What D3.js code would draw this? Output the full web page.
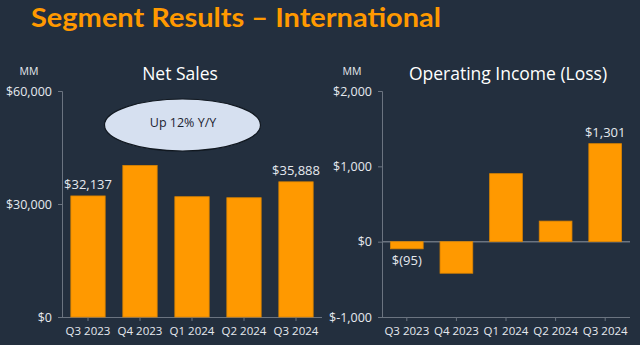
<!DOCTYPE html>
<html><head><meta charset="utf-8">
<script src="https://cdn.jsdelivr.net/npm/d3@7"></script>
<style>
html,body{margin:0;padding:0;background:#232f3e;}
svg{display:block;}
text{font-family:"Open Sans","Noto Sans",sans-serif;}
</style></head>
<body>
<svg id="c" width="640" height="345"></svg>
<script>
const quarters = ["Q3 2023","Q4 2023","Q1 2024","Q2 2024","Q3 2024"];
const netSales = [32137, 40243, 31935, 31663, 35888];
const opIncome = [-95, -419, 903, 273, 1301];
const salesTicks = [0, 30000, 60000];
const salesTickLabels = ["$0", "$30,000", "$60,000"];
const incomeTicks = [-1000, 0, 1000, 2000];
const incomeTickLabels = ["$-1,000", "$0", "$1,000", "$2,000"];
const salesLabels = [{i:0, text:"$32,137"}, {i:4, text:"$35,888"}];
const incomeLabels = [{i:0, text:"$(95)"}, {i:4, text:"$1,301"}];
const title = "Segment Results – International";
const callout = "Up 12% Y/Y";

const svg = d3.select("#c");
const ORANGE = "#ff9900", TXT = "#e6e9ee", AX = "#6b7480";

svg.append("text").attr("x", 31).attr("y", 26.5)
  .attr("fill", ORANGE).attr("font-size", 26).attr("font-weight", 700)
  .style("font-family", "Lato, 'Open Sans', sans-serif")
  .attr("textLength", 410).attr("lengthAdjust", "spacingAndGlyphs")
  .text(title);

function panel(opt){
  const g = svg.append("g");
  const x = d3.scaleBand().domain(quarters).range(opt.xr).paddingInner(0.34).paddingOuter(0.17);
  const y = d3.scaleLinear().domain(opt.dom).range([317, 91]);
  const ya = d3.axisLeft(y).tickValues(opt.ticks).tickSize(4)
    .tickFormat((d,i)=>opt.tickLabels[i]);
  const yg = g.append("g").attr("transform",`translate(${opt.xr[0]},0)`).call(ya);
  yg.select(".domain").attr("stroke", AX);
  yg.selectAll(".tick line").attr("stroke", AX);
  yg.selectAll(".tick text").attr("fill", TXT).attr("font-size", 12.5).attr("x", -10);
  const xa = d3.axisBottom(x).tickSize(4).tickSizeOuter(0);
  const xg = g.append("g").attr("transform",`translate(0,317)`).call(xa);
  xg.select(".domain").attr("stroke", AX).attr("d", `M${opt.xr[0]-4},0.5H${opt.xr[1]}`);
  xg.selectAll(".tick line").attr("stroke", AX);
  xg.selectAll(".tick text").attr("fill", TXT).attr("font-size", 11.5).attr("dy", "0.95em");
  if (opt.dom[0] < 0) {
    g.append("line").attr("x1", opt.xr[0]).attr("x2", opt.xr[1])
      .attr("y1", y(0)).attr("y2", y(0)).attr("stroke", AX).attr("stroke-width", 1.5);
  }
  g.selectAll("rect.bar").data(opt.values).join("rect").attr("class","bar")
    .attr("x", (d,i)=>x(quarters[i])).attr("width", x.bandwidth())
    .attr("y", d=>y(Math.max(0,d))).attr("height", d=>Math.abs(y(d)-y(0)))
    .attr("fill", ORANGE).attr("stroke", "#d98300").attr("stroke-width", 0.8);
  g.selectAll("text.val").data(opt.labels).join("text").attr("class","val")
    .attr("x", d=>x(quarters[d.i]) + x.bandwidth()/2)
    .attr("y", d=>{ const v = opt.values[d.i]; return v >= 0 ? y(v) - 7 : y(v) + 16; })
    .attr("text-anchor","middle").attr("fill", TXT).attr("font-size", 13)
    .text(d=>d.text);
  g.append("text").attr("x", opt.mmX).attr("y", 75).attr("text-anchor","middle")
    .attr("fill", TXT).attr("font-size", 10.5).text("MM");
  g.append("text").attr("x", opt.titleX).attr("y", 80).attr("text-anchor","middle")
    .attr("fill", "#ffffff").attr("font-size", 17.5).text(opt.title);
  return {x, y, g};
}

const p1 = panel({xr:[62, 322], dom:[0, 60000], ticks:salesTicks, tickLabels:salesTickLabels,
  values:netSales, labels:salesLabels, mmX:29, titleX:180, title:"Net Sales"});
const p2 = panel({xr:[382, 630], dom:[-1000, 2000], ticks:incomeTicks, tickLabels:incomeTickLabels,
  values:opIncome, labels:incomeLabels, mmX:352, titleX:508, title:"Operating Income (Loss)"});

p1.g.append("ellipse").attr("cx", 182.5).attr("cy", 125).attr("rx", 78).attr("ry", 26)
  .attr("fill", "#d6e0f0").attr("stroke", "#111820").attr("stroke-width", 1.2);
p1.g.append("text").attr("x", 183).attr("y", 126.5).attr("text-anchor","middle")
  .attr("fill", "#1c2330").attr("font-size", 12.5).text(callout);
</script>
</body></html>
